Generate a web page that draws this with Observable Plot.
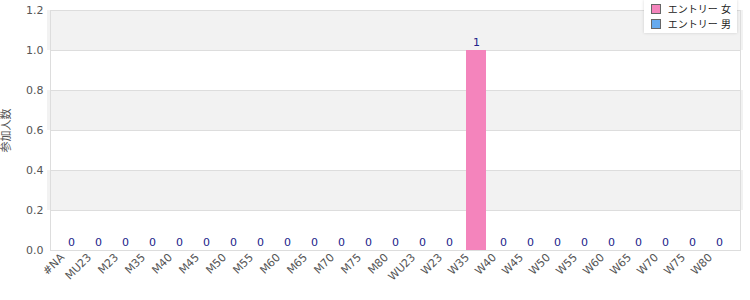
<!DOCTYPE html>
<html>
<head>
<meta charset="utf-8">
<script src="https://cdn.jsdelivr.net/npm/d3@7"></script>
<script src="https://cdn.jsdelivr.net/npm/@observablehq/plot@0.6"></script>
<style>
  body { margin: 0; background: #fff; font-family: "DejaVu Sans", "Noto Sans CJK JP", sans-serif; }
  #wrap { position: relative; width: 750px; height: 300px; }
  #legend { position: absolute; right: 13px; top: 0px; height: 33px; padding: 0 6px 0 7px; background: #fff;
            box-shadow: 0 0 3px rgba(0,0,0,0.15); font-size: 10px; color: #222; white-space: nowrap; }
  .item { display: flex; align-items: center; height: 13px; margin-top: 2px; }
  .sw { width: 8px; height: 8px; border: 1px solid #666; margin-right: 7px; flex: none; }
</style>
</head>
<body>
<div id="wrap"><div id="chart"></div><div id="legend"></div></div>
<script>
const categories = ["#NA","MU23","M23","M35","M40","M45","M50","M55","M60","M65","M70","M75","M80","WU23","W23","W35","W40","W45","W50","W55","W60","W65","W70","W75","W80"];
const womenValues = [0,0,0,0,0,0,0,0,0,0,0,0,0,0,0,1,0,0,0,0,0,0,0,0,0];
const menValues   = [0,0,0,0,0,0,0,0,0,0,0,0,0,0,0,0,0,0,0,0,0,0,0,0,0];
const seriesNames = ["エントリー 女", "エントリー 男"];
const seriesColors = ["#f484bc", "#66aaee"];
const yTicks = [0, 0.2, 0.4, 0.6, 0.8, 1.0, 1.2];
const yTitle = "参加人数";

const rows = [];
categories.forEach((c, i) => {
  rows.push({cat: c, series: seriesNames[0], value: womenValues[i]});
  rows.push({cat: c, series: seriesNames[1], value: menValues[i]});
});
const totals = categories.map((c, i) => ({cat: c, total: womenValues[i] + menValues[i]}));
const bands = [];
for (let i = 0; i < yTicks.length - 1; i++) bands.push({y1: yTicks[i], y2: yTicks[i+1], shade: i % 2 === 1});

const chart = Plot.plot({
  width: 750, height: 300,
  marginLeft: 50, marginRight: 10, marginTop: 10, marginBottom: 50,
  style: {fontFamily: "DejaVu Sans, Noto Sans CJK JP, sans-serif", fontSize: "11px", color: "#444"},
  x: {domain: categories, padding: 0.27, label: null},
  y: {domain: [0, 1.2], ticks: yTicks, label: yTitle},
  color: {domain: seriesNames, range: seriesColors},
  marks: [
    Plot.rect(bands, {x1: () => categories[0], x2: () => categories[categories.length-1], y1: "y1", y2: "y2",
      fill: d => d.shade ? "#f2f2f2" : "#ffffff", insetLeft: -14, insetRight: -14}),
    Plot.ruleY(yTicks, {stroke: "#dddddd"}),
    Plot.barY(rows, {x: "cat", y: "value", fill: "series"}),
    Plot.frame({stroke: "#dddddd"}),
    Plot.axisY({ticks: yTicks, tickFormat: d => d.toFixed(1), tickSize: 0, tickPadding: 7,
      label: yTitle, labelAnchor: "center", labelArrow: "none", labelOffset: 48, fill: "#555"}),
    Plot.axisX({tickRotate: -45, tickSize: 0, tickPadding: 6, dx: -9, dy: -1, label: null, fill: "#555"}),
    Plot.text(totals, {x: "cat", y: "total", text: d => String(d.total), dy: -8, fill: "#22228a", fontSize: 11})
  ]
});
document.getElementById("chart").appendChild(chart);

const legend = document.getElementById("legend");
seriesNames.forEach((n, i) => {
  const it = document.createElement("div");
  it.className = "item";
  it.innerHTML = `<span class="sw" style="background:${seriesColors[i]}"></span><span>${n}</span>`;
  legend.appendChild(it);
});
</script>
</body>
</html>
